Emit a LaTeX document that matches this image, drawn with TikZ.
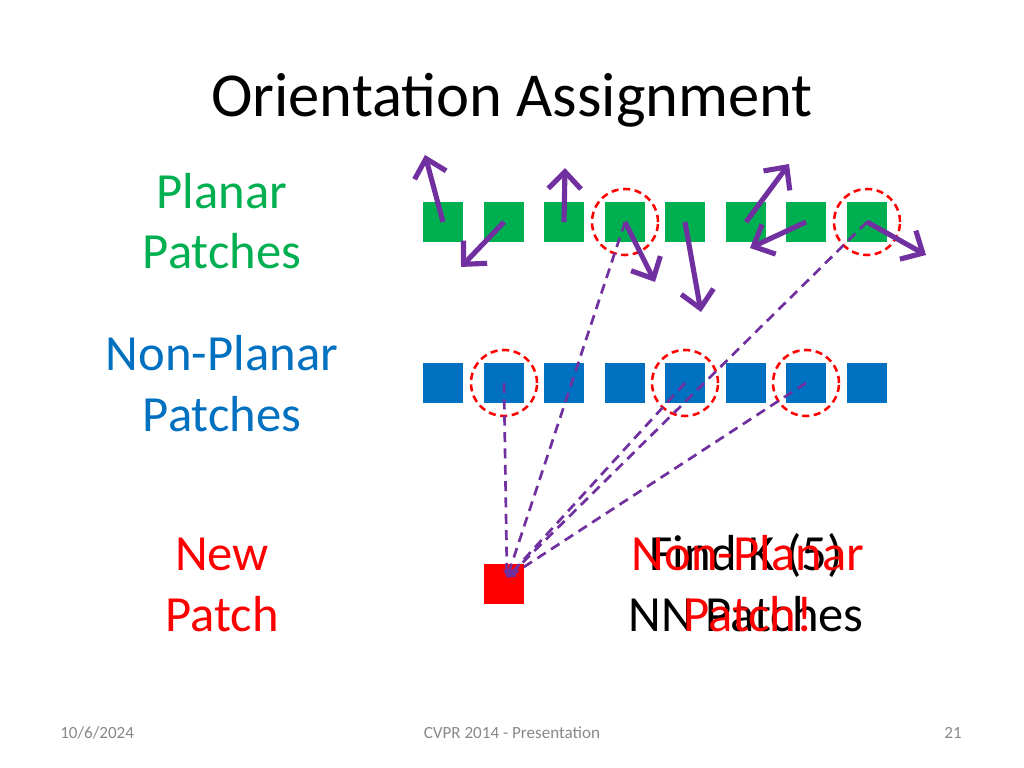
\documentclass[tikz,border=0pt]{standalone}
\usepackage{fontspec}
\setmainfont{Carlito}
\usetikzlibrary{arrows.meta}
\definecolor{pgreen}{HTML}{00B050}
\definecolor{pblue}{HTML}{0070C0}
\definecolor{pred}{HTML}{FF0000}
\definecolor{ppurple}{HTML}{7030A0}
\definecolor{pgray}{HTML}{898989}
\begin{document}
\begin{tikzpicture}[x=0.703125pt,y=-0.703125pt,
  patch/.style={minimum size=28.1pt,inner sep=0pt,outer sep=0pt,draw=none},
  gpatch/.style={patch,fill=pgreen},
  bpatch/.style={patch,fill=pblue},
  rpatch/.style={patch,fill=pred},
  ring/.style={circle,draw=pred,line width=1.8pt,dash pattern=on 5pt off 3.2pt,minimum size=46.4pt,inner sep=0pt},
  orient/.style={draw=ppurple,line width=3.6pt,-{Straight Barb[length=12pt,width=23pt]}},
  match/.style={draw=ppurple,line width=1.9pt,dash pattern=on 7pt off 4.5pt,-{Latex[length=6pt,width=6pt]}},
  lbl/.style={font=\fontsize{35.6}{42.2}\selectfont,align=center,anchor=base,inner sep=0pt},
  foot/.style={font=\fontsize{12}{14}\selectfont,text=pgray,inner sep=0pt}
]
\useasboundingbox (0,0) rectangle (1024,768);
\fill[white] (0,0) rectangle (1024,768);
% title
\node[font=\fontsize{44}{52}\selectfont,anchor=base,inner sep=0pt] (title) at (512,117) {Orientation Assignment};
% labels (base anchor = baseline of last line)
\node[lbl,text=pgreen] (lplanar) at (222,269) {Planar\\Patches};
\node[lbl,text=pblue] (lnonplanar) at (222,431) {Non-Planar\\Patches};
\node[lbl,text=pred] (lnew) at (222,631) {New\\Patch};
% patches
\foreach \i/\x in {1/443,2/504,3/564,4/625,5/685,6/746,7/806,8/867}{
  \node[gpatch] (g\i) at (\x,222) {};
  \node[bpatch] (b\i) at (\x,383) {};
}
\node[rpatch] (red) at (504,584) {};
% rings
\node[ring] (rg4) at (g4) {};
\node[ring] (rg8) at (g8) {};
\node[ring] (rb2) at (b2) {};
\node[ring] (rb5) at (b5) {};
\node[ring] (rb7) at (b7) {};
% matching lines
\coordinate (hit) at (507,578);
\draw[match] (b2.center) -- (hit);
\draw[match] (g4.center) -- (hit);
\draw[match] (b5.center) -- (hit);
\draw[match] (g8.center) -- (hit);
\draw[match] (b7.center) -- (hit);
% orientation arrows
\coordinate (t1) at (425,155);
\coordinate (t2) at (461,267);
\coordinate (t3) at (565,168);
\coordinate (t4) at (655,282);
\coordinate (t5) at (701,312);
\coordinate (t6) at (789,164);
\coordinate (t7) at (750,248);
\coordinate (t8) at (926,255);
\foreach \i in {1,...,8}{\draw[orient] (g\i.center) -- (t\i);}
% right texts
\node[lbl] (lfind) at (746,631) {Find K (5)\\NN Patches};
\node[lbl,text=pred] (lnp) at (748,631) {Non-Planar\\Patch!};
% footer
\node[foot,anchor=base west] (fdate) at (60,738) {10/6/2024};
\node[foot,anchor=base] (fconf) at (512,738) {CVPR 2014 - Presentation};
\node[foot,anchor=base east] (fpage) at (962,738) {21};
\end{tikzpicture}
\end{document}
